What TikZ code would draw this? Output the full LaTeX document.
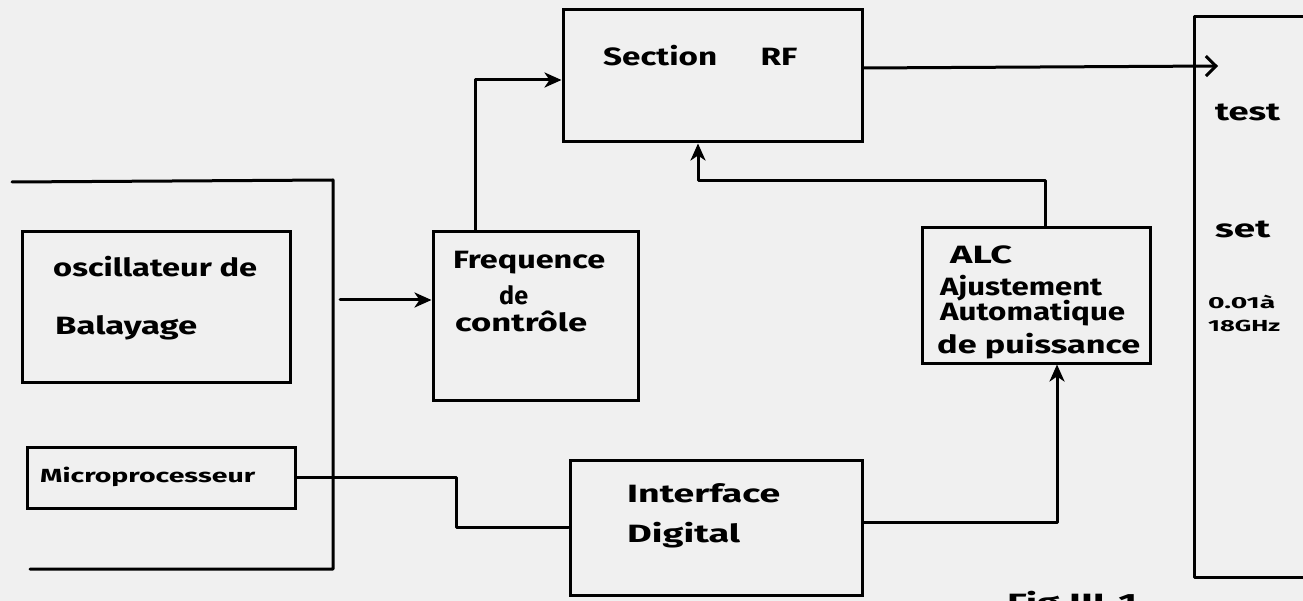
\documentclass[tikz,border=0pt]{standalone}
\usepackage{fontspec}
\usepackage{graphicx}
\usetikzlibrary{arrows.meta}
\newfontfamily\hand{Fira Sans}
\newcommand\hw[2]{\resizebox{#1pt}{\height}{#2}}
\tikzset{
  box/.style={draw, line width=3pt, inner sep=0pt},
  wire/.style={line width=3pt, line cap=round, line join=round},
  arr/.style={wire, -{Stealth[length=17pt,width=15pt,inset=5pt]}},
  barb/.style={wire, -{Straight Barb[length=10pt,width=20pt,line width=3pt]}},
  lbl/.style={anchor=west, inner sep=0pt, font=\hand\bfseries\fontsize{25}{30}\selectfont},
  small/.style={anchor=west, inner sep=0pt, font=\hand\bfseries\fontsize{16}{19}\selectfont},
}
\begin{document}
\begin{tikzpicture}[x=1pt,y=-1pt]
\useasboundingbox (0,0) rectangle (1303,601);
\clip (0,0) rectangle (1303,601);
\fill[white!94!black] (0,0) rectangle (1303,601);

% boxes
\node[box, minimum width=268pt, minimum height=150pt] (osc) at (156,307) {};
\node[box, minimum width=268pt, minimum height=61pt] (micro) at (161,477.5) {};
\node[box, minimum width=205pt, minimum height=168pt] (freq) at (535.5,316) {};
\node[box, minimum width=299pt, minimum height=132pt] (rf) at (712.5,76) {};
\node[box, minimum width=228pt, minimum height=135pt] (alc) at (1036,295.5) {};
\node[box, minimum width=292pt, minimum height=135pt] (iface) at (716,527.5) {};

% left bracket
\coordinate (b1) at (12,182);
\coordinate (b2) at (333,180);
\coordinate (b3) at (333,569);
\coordinate (b4) at (30,569);
\draw[wire] (b1) -- (b2) -- (b3) -- (b4);

% test set box (open on the right)
\coordinate (t1) at (1310,17);
\coordinate (t2) at (1194,17);
\coordinate (t3) at (1194,577);
\coordinate (t4) at (1310,577);
\draw[wire] (t1) -- (t2) -- (t3) -- (t4);

% texts
\node[lbl] (osc1) at (53,267) {\hw{204}{oscillateur de}};
\node[lbl] (osc2) at (55,328) {\hw{142}{Balayage}};
\node[lbl, font=\hand\bfseries\fontsize{19}{22}\selectfont] (mic) at (40,477) {\hw{215}{Microprocesseur}};
\node[lbl] (fq1) at (453,263) {\hw{152}{Frequence}};
\node[lbl] (fq2) at (499,295) {\hw{29}{de}};
\node[lbl] (fq3) at (455,321) {\hw{132}{contrôle}};
\node[lbl] (rft) at (603,56) {\hw{194}{Section\hspace{1.3em}RF}};
\node[lbl] (al1) at (950,255) {\hw{62}{ALC}};
\node[lbl] (al2) at (940,288) {\hw{162}{Ajustement}};
\node[lbl] (al3) at (940,313) {\hw{185}{Automatique}};
\node[lbl] (al4) at (937,346) {\hw{203}{de puissance}};
\node[lbl] (if1) at (627,493) {\hw{153}{Interface}};
\node[lbl] (if2) at (627,535) {\hw{113}{Digital}};
\node[lbl] (ts1) at (1215,112) {\hw{65}{test}};
\node[lbl] (ts2) at (1215,229) {\hw{55}{set}};
\node[small] (ts3) at (1208,302) {\hw{67}{0.01à}};
\node[small] (ts4) at (1208,326) {\hw{72}{18GHz}};
\node[lbl, anchor=north west] (cap) at (1007,591) {\hw{130}{Fig III-1}};

% connectors
\coordinate (br) at (340,300);
\draw[arr] (br) -- (freq.west |- br);
\draw[arr] ([xshift=-60.5pt]freq.north) |- ([yshift=-4pt]rf.west);
\coordinate (tsin) at (1218,66);
\draw[barb] ([yshift=8pt]rf.east) -- (tsin);
\coordinate (fb) at (698,181);
\draw[arr] ([xshift=9pt]alc.north) |- (fb) -- (fb |- rf.south);
\draw[arr] ([yshift=5.5pt]iface.east) -| ([xshift=21pt]alc.south);
\coordinate (mj) at (456,477.5);
\draw[wire] (micro.east) -- (mj) |- (iface.west);
\end{tikzpicture}
\end{document}
